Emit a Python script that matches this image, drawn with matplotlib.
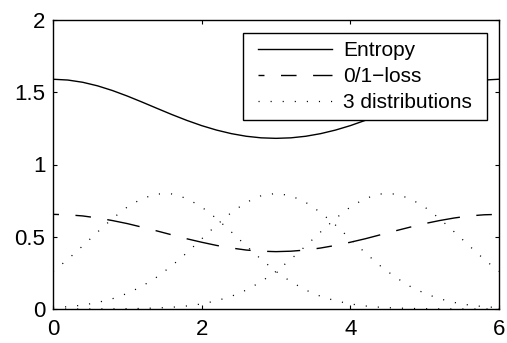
import matplotlib
matplotlib.use("Agg")
import matplotlib.pyplot as plt
from matplotlib.offsetbox import DrawingArea

plt.rcParams['font.family'] = ['Liberation Sans', 'DejaVu Sans']
plt.rcParams['lines.scale_dashes'] = False

x = [0.0, 0.2, 0.4, 0.6, 0.8, 1.0, 1.2, 1.4, 1.6, 1.8, 2.0, 2.2, 2.4, 2.6, 2.8, 3.0,
     3.2, 3.4, 3.6, 3.8, 4.0, 4.2, 4.4, 4.6, 4.8, 5.0, 5.2, 5.4, 5.6, 5.8, 6.0]

entropy = [1.590, 1.5845, 1.569, 1.5443, 1.5118, 1.4736, 1.4317, 1.3883, 1.3455, 1.3053,
           1.2690, 1.2382, 1.2135, 1.1954, 1.1845, 1.181,
           1.1845, 1.1954, 1.2135, 1.2382, 1.2690, 1.3053, 1.3455, 1.3883, 1.4317, 1.4736,
           1.5118, 1.5443, 1.569, 1.5845, 1.590]

loss01 = [0.655, 0.652, 0.644, 0.630, 0.612, 0.591, 0.566, 0.540, 0.513, 0.486,
          0.462, 0.440, 0.422, 0.408, 0.400, 0.397,
          0.400, 0.408, 0.422, 0.440, 0.462, 0.486, 0.513, 0.540, 0.566, 0.591,
          0.612, 0.630, 0.644, 0.652, 0.655]

dist1 = [0.260, 0.344, 0.437, 0.533, 0.626, 0.706, 0.765, 0.796, 0.796, 0.765,
         0.706, 0.626, 0.533, 0.437, 0.344, 0.260, 0.189, 0.131, 0.088, 0.057,
         0.035, 0.021, 0.012, 0.007, 0.004, 0.002, 0.001, 0.0004, 0.0002, 0.0001, 0.0]

dist2 = [0.009, 0.016, 0.027, 0.045, 0.071, 0.108, 0.158, 0.222, 0.300, 0.389,
         0.485, 0.581, 0.668, 0.738, 0.784, 0.800, 0.784, 0.738, 0.668, 0.581,
         0.485, 0.389, 0.300, 0.222, 0.158, 0.108, 0.071, 0.045, 0.027, 0.016, 0.009]

dist3 = [0.0, 0.0001, 0.0002, 0.0004, 0.001, 0.002, 0.004, 0.007, 0.012, 0.021,
         0.035, 0.057, 0.088, 0.131, 0.189, 0.260, 0.344, 0.437, 0.533, 0.626,
         0.706, 0.765, 0.796, 0.796, 0.765, 0.706, 0.626, 0.533, 0.437, 0.344, 0.260]

labels = ['Entropy', '0/1\u2212loss', '3 distributions']
xticks = [0, 2, 4, 6]
yticks = [0, 0.5, 1, 1.5, 2]
yticklabels = ['0', '0.5', '1', '1.5', '2']

fig = plt.figure(figsize=(5.07, 3.43), dpi=100)
ax = fig.add_axes([53/507, 1 - 309/343, 446/507, 289/343])

ax.plot(x, entropy, color='black', lw=1.0, label=labels[0])
ax.plot(x, loss01, color='black', lw=1.0, dashes=(4.3, 11.9, 11.2, 11.9, 19.5, 0.0),
        label=labels[1])
dot = (0.8, 7.9)
ax.plot(x, dist1, color='black', lw=0.9, dashes=dot, label=labels[2])
ax.plot(x, dist2, color='black', lw=0.9, dashes=dot)
ax.plot(x, dist3, color='black', lw=0.9, dashes=dot)

ax.set_xlim(0, 6)
ax.set_ylim(0, 2)
ax.set_xticks(xticks)
ax.set_yticks(yticks)
ax.set_yticklabels(yticklabels)
ax.tick_params(direction='in', length=3.2, width=0.8, top=True, right=True,
               labelsize=16)
ax.tick_params(axis='x', pad=7.5)
ax.tick_params(axis='y', pad=5.5)
for s in ax.spines.values():
    s.set_linewidth(1.0)

leg = ax.legend(loc='upper right', bbox_to_anchor=(434/446, 276/289),
                borderaxespad=0, fontsize=15, frameon=True, fancybox=False,
                edgecolor='black', framealpha=1, handlelength=3.55,
                handletextpad=0.53, borderpad=0.4, labelspacing=0.33,
                columnspacing=0)
leg.get_frame().set_linewidth(1.0)
# extra horizontal padding inside the legend box
hbox = leg._legend_handle_box.get_children()
hbox.insert(0, DrawingArea(4.8, 0))
hbox.append(DrawingArea(4.8, 0))

fig.savefig('out.png', dpi=100)
